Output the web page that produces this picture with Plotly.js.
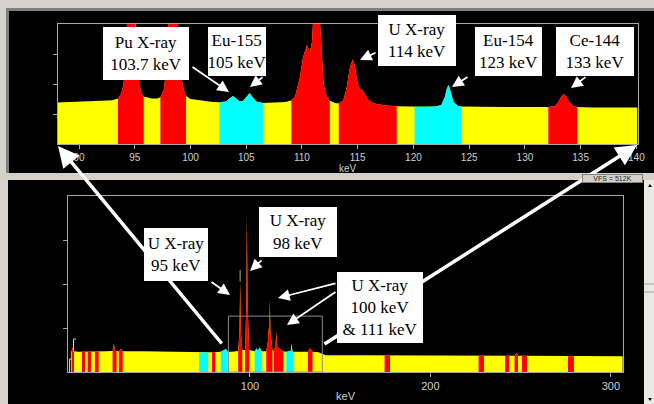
<!DOCTYPE html>
<html><head><meta charset="utf-8">
<script src="https://cdn.plot.ly/plotly-3.0.1.min.js"></script>
<style>html,body{margin:0;padding:0;background:#d6d3ce;}#chart{width:654px;height:404px;}</style>
</head><body><div id="chart"></div>
<script>
// ---------- data ----------
// Top panel: zoomed spectrum (keV, counts in tick units)
const TOP_ENERGY = [88.0,89.0,90.0,91.0,92.0,93.0,93.5,93.8,94.0,94.2,94.35,95.0,95.2,95.4,95.6,95.8,96.5,97.0,97.3,97.6,97.8,98.0,98.1,98.8,99.0,99.2,99.4,99.6,100.0,101.0,102.0,102.6,103.2,103.5,103.8,104.1,104.4,104.7,105.0,105.3,105.6,105.9,106.5,107.5,108.5,109.05,109.4,109.8,110.1,110.45,110.7,110.9,111.05,111.55,111.75,111.95,112.2,112.5,113.0,113.3,113.7,114.0,114.3,114.55,114.75,114.95,115.15,115.45,115.75,116.0,116.5,117.5,118.5,119.3,120.1,121.0,122.0,122.5,122.8,123.0,123.15,123.35,123.6,124.0,124.3,126.0,128.0,130.0,132.1,132.7,133.0,133.3,133.5,133.7,134.0,134.4,134.7,136.0,138.0,140.1];
const TOP_COUNTS = [1.38,1.39,1.40,1.42,1.44,1.46,1.52,1.7,2.0,3.0,4.5,4.5,3.0,2.0,1.7,1.58,1.52,1.52,1.56,1.8,2.4,3.4,4.5,4.5,3.2,2.2,1.8,1.6,1.5,1.44,1.40,1.39,1.42,1.52,1.60,1.52,1.42,1.43,1.58,1.69,1.55,1.42,1.37,1.38,1.40,1.45,1.6,2.2,2.9,3.3,3.05,3.4,4.5,4.5,3.0,2.0,1.6,1.45,1.36,1.36,1.45,1.85,2.55,2.82,2.6,2.1,1.85,1.78,1.6,1.45,1.35,1.28,1.26,1.25,1.24,1.24,1.25,1.3,1.55,1.85,1.97,1.75,1.4,1.27,1.25,1.24,1.24,1.23,1.23,1.27,1.4,1.6,1.66,1.58,1.38,1.26,1.23,1.22,1.22,1.22];
const TOP_RED_ROIS  = [[93.5,95.8],[97.3,99.6],[109.05,112.5],[113.3,118.5],[132.1,134.7]];
const TOP_CYAN_ROIS = [[102.6,106.5],[120.1,124.3]];
const TOP_X_TICKS = [90,95,100,105,110,115,120,125,130,135,140];
const ZOOM_WINDOW = [88.07,140.1];

// Bottom panel: full spectrum
const BOT_ENERGY = [0.8,1.2,1.8,2.5,5,6.9,8.6,10.1,11.9,14.1,16.2,20,23.9,24.6,25.3,26.1,27.4,28.4,29.5,40,50,60,71.9,76.9,79,80.8,83.8,86.7,87.7,90,93.5,94.2,94.6,95.0,95.8,97.3,98.0,98.3,98.7,99.6,102.6,103.7,104.5,105.3,106.5,109.05,110.0,110.4,110.7,111.0,111.4,112.5,113.3,114.2,114.6,115.0,115.6,118.5,120.1,122.6,123.1,123.6,124.3,132.1,133.3,134.7,138,142,160,174.6,176,177.6,200,226.7,229.7,241.4,243.6,246.6,247.8,248.5,250.7,253.5,276.2,279.5,306.5];
const BOT_COUNTS = [0.47,0.47,0.56,0.47,0.46,0.46,0.46,0.47,0.47,0.47,0.47,0.47,0.48,0.64,0.48,0.48,0.47,0.53,0.47,0.47,0.46,0.45,0.44,0.45,0.45,0.45,0.46,0.52,0.46,0.46,0.48,0.9,2.05,0.9,0.5,0.5,1.5,3.55,1.5,0.5,0.47,0.54,0.48,0.56,0.47,0.47,0.7,1.0,0.9,1.65,0.9,0.5,0.47,0.6,0.92,0.6,0.55,0.47,0.46,0.48,0.64,0.46,0.46,0.46,0.54,0.46,0.45,0.38,0.38,0.38,0.38,0.38,0.37,0.37,0.37,0.37,0.37,0.37,0.43,0.37,0.37,0.37,0.36,0.36,0.36];
const BOT_RED_ROIS = [[1.2,2.5],[6.9,8.6],[10.1,11.9],[14.1,16.2],[23.9,26.1],[27.4,29.5],[79,80.8],[93.5,95.8],[97.3,99.6],[109.05,112.5],[113.3,118.5],[132.1,134.7],[174.6,177.6],[226.7,229.7],[241.4,243.6],[246.6,248.5],[250.7,253.5],[276.2,279.5]];
const BOT_CYAN_ROIS = [[71.9,76.9],[83.8,87.7],[102.6,106.5],[120.1,124.3]];
const BOT_X_TICKS = [100,200,300];
const BOT_OVERLAY_E = [94.6];      // gray cap over the 95 keV peak
const BOT_OVERLAY_FROM = [2.05];
const BOT_OVERLAY_TO = [2.32];

const TOP_LABELS = ['Pu X-ray<br>103.7 keV','Eu-155<br>105 keV','U X-ray<br>114 keV','Eu-154<br>123 keV','Ce-144<br>133 keV'];
const BOT_LABELS = ['U X-ray<br>95 keV','U X-ray<br>98 keV','U X-ray<br>100 keV<br>&amp; 111 keV'];

// ---------- helpers ----------
const W = 654, H = 404;
const px = x => x / W, py = y => 1 - y / H;
function seg(E, C, a, b) {
  const xs = [], ys = [];
  for (let i = 0; i < E.length; i++) if (E[i] >= a - 1e-9 && E[i] <= b + 1e-9) { xs.push(E[i]); ys.push(C[i]); }
  return {xs, ys};
}
function fillTrace(xs, ys, color, xa, ya) {
  return {x: xs, y: ys, type: 'scatter', mode: 'lines', fill: 'tozeroy', fillcolor: color,
          line: {width: 0, color: color}, xaxis: xa, yaxis: ya, hoverinfo: 'skip', showlegend: false};
}
const YEL = '#ffff00', RED = '#ff0000', CYA = '#00ffff';
const traces = [];
traces.push(fillTrace(TOP_ENERGY, TOP_COUNTS, YEL, 'x', 'y'));
TOP_RED_ROIS.forEach(r => { const s = seg(TOP_ENERGY, TOP_COUNTS, r[0], r[1]); traces.push(fillTrace(s.xs, s.ys, RED, 'x', 'y')); });
TOP_CYAN_ROIS.forEach(r => { const s = seg(TOP_ENERGY, TOP_COUNTS, r[0], r[1]); traces.push(fillTrace(s.xs, s.ys, CYA, 'x', 'y')); });
traces.push(fillTrace(BOT_ENERGY, BOT_COUNTS, YEL, 'x2', 'y2'));
BOT_RED_ROIS.forEach(r => { const s = seg(BOT_ENERGY, BOT_COUNTS, r[0], r[1]); traces.push(fillTrace(s.xs, s.ys, RED, 'x2', 'y2')); });
BOT_CYAN_ROIS.forEach(r => { const s = seg(BOT_ENERGY, BOT_COUNTS, r[0], r[1]); traces.push(fillTrace(s.xs, s.ys, CYA, 'x2', 'y2')); });
BOT_OVERLAY_E.forEach((e, i) => traces.push({x: [e, e], y: [BOT_OVERLAY_FROM[i], BOT_OVERLAY_TO[i]], type: 'scatter', mode: 'lines',
  line: {color: '#707070', width: 1.5}, xaxis: 'x2', yaxis: 'y2', hoverinfo: 'skip', showlegend: false}));

const AX = '#a8a8a8', TXT = '#cfcfcf';
const tickFont = {family: 'Liberation Sans, Arial, sans-serif', size: 10, color: TXT};
function xAxis(domain, range, ticks, anchor, fsize) {
  return {domain, range, tickvals: ticks, ticktext: ticks.map(String), ticks: 'outside', ticklen: 4, tickcolor: AX,
    tickfont: Object.assign({}, tickFont, {size: fsize}), showline: true, mirror: true, linecolor: AX, linewidth: 1,
    showgrid: false, zeroline: false, anchor, fixedrange: true,
    title: {text: 'keV', font: Object.assign({}, tickFont, {size: fsize}), standoff: 1}};
}
function yAxis(domain, anchor) {
  return {domain, range: [0, 4], tickvals: [1, 2, 3], ticks: 'outside', ticklen: 4, tickcolor: AX, showticklabels: false,
    showline: true, mirror: true, linecolor: AX, linewidth: 1, showgrid: false, zeroline: false, anchor, fixedrange: true};
}

const shapes = [
  // window frames
  {type: 'rect', xref: 'paper', yref: 'paper', x0: px(6), x1: px(654), y0: py(173), y1: py(8), fillcolor: '#808080', line: {width: 0}, layer: 'below'},
  {type: 'rect', xref: 'paper', yref: 'paper', x0: px(9), x1: px(654), y0: py(173), y1: py(11), fillcolor: '#000000', line: {width: 0}, layer: 'below'},
  {type: 'rect', xref: 'paper', yref: 'paper', x0: px(0), x1: px(654), y0: py(180), y1: py(173), fillcolor: '#d4d0c8', line: {width: 0}, layer: 'below'},
  {type: 'rect', xref: 'paper', yref: 'paper', x0: px(8), x1: px(644), y0: py(404), y1: py(180), fillcolor: '#000000', line: {width: 0}, layer: 'below'},
  {type: 'rect', xref: 'paper', yref: 'paper', x0: px(644), x1: px(654), y0: py(404), y1: py(180), fillcolor: '#ebe9e5', line: {width: 0}, layer: 'below'},
  {type: 'line', xref: 'paper', yref: 'paper', x0: px(644), x1: px(654), y0: py(284), y1: py(284), line: {color: '#a0a0a0', width: 1}},
  {type: 'line', xref: 'paper', yref: 'paper', x0: px(644), x1: px(654), y0: py(292), y1: py(292), line: {color: '#a0a0a0', width: 1}},
  {type: 'path', xref: 'paper', yref: 'paper', path: `M${px(648)},${py(187)} L${px(652)},${py(187)} L${px(650)},${py(184)} Z`, fillcolor: '#000', line: {width: 0}},
  {type: 'path', xref: 'paper', yref: 'paper', path: `M${px(648)},${py(398)} L${px(652)},${py(398)} L${px(650)},${py(401)} Z`, fillcolor: '#000', line: {width: 0}},
  // zoom window outline in the full spectrum
  {type: 'rect', xref: 'x2', yref: 'y2', x0: ZOOM_WINDOW[0], x1: ZOOM_WINDOW[1], y0: 0, y1: 1.27, line: {color: '#8c8c8c', width: 1}, fillcolor: 'rgba(0,0,0,0)'},
  // region cursor brackets at the left of the full spectrum
  {type: 'path', xref: 'paper', yref: 'paper', path: `M${px(69.5)},${py(372)} L${px(69.5)},${py(359)} L${px(72)},${py(359)}`, line: {color: '#d0d0d0', width: 1}},
  {type: 'path', xref: 'paper', yref: 'paper', path: `M${px(73.5)},${py(352)} L${px(73.5)},${py(339)} L${px(76)},${py(339)}`, line: {color: '#d0d0d0', width: 1}}
];

const serif = {family: 'Liberation Serif, DejaVu Serif, serif', size: 17, color: '#000000'};
function box(text, x0, x1, y0, y1) {
  return {text, xref: 'paper', yref: 'paper', x: px((x0 + x1) / 2), y: py((y0 + y1) / 2), xanchor: 'center', yanchor: 'middle',
    showarrow: false, bgcolor: '#ffffff', borderpad: 0, borderwidth: 0, width: x1 - x0, height: y1 - y0, font: serif, align: 'center'};
}
function arrow(tx, ty, hx, hy, w, size) {
  return {text: '', xref: 'paper', yref: 'paper', x: px(hx), y: py(hy), ax: tx - hx, ay: ty - hy, axref: 'pixel', ayref: 'pixel',
    showarrow: true, arrowcolor: '#ffffff', arrowwidth: w, arrowhead: 2, arrowsize: size, standoff: 0, startstandoff: 0};
}
const annotations = [
  arrow(223, 345, 58, 146, 3.5, 1.2),
  arrow(323, 345, 637, 145, 3.5, 1.2),
  box(TOP_LABELS[0], 103, 189, 27, 80),
  box(TOP_LABELS[1], 208, 266, 27, 76),
  box(TOP_LABELS[2], 378, 456, 15, 66),
  box(TOP_LABELS[3], 475, 542, 27, 76),
  box(TOP_LABELS[4], 556, 634, 27, 76),
  box(BOT_LABELS[0], 144, 208, 228, 281),
  box(BOT_LABELS[1], 259, 337, 207, 257),
  box(BOT_LABELS[2], 337, 423, 272, 343),
  arrow(191, 66, 229, 92, 1.8, 1.3),
  arrow(264, 76, 250, 87, 1.8, 1.3),
  arrow(377, 52, 360, 60, 1.8, 1.3),
  arrow(469, 76, 452, 87, 1.8, 1.3),
  arrow(587, 76, 571, 88, 1.8, 1.3),
  arrow(210, 281, 230, 295, 1.8, 1.3),
  arrow(263, 259, 250, 271, 1.8, 1.3),
  arrow(337, 283, 278, 298, 1.8, 1.3),
  arrow(337, 291, 287, 325, 1.8, 1.3),
  {text: 'VFS = 512K', xref: 'paper', yref: 'paper', x: px(612.5), y: py(178.5), xanchor: 'center', yanchor: 'middle', showarrow: false,
   bgcolor: '#d4d0c8', bordercolor: '#808080', borderwidth: 1, borderpad: 0, width: 59, height: 7,
   font: {family: 'Liberation Sans, Arial, sans-serif', size: 7, color: '#202020'}}
];

const layout = {
  width: W, height: H, margin: {l: 0, r: 0, t: 0, b: 0}, paper_bgcolor: '#d6d3ce', plot_bgcolor: 'rgba(0,0,0,0)',
  showlegend: false,
  xaxis: xAxis([px(57.5), px(637.5)], ZOOM_WINDOW, TOP_X_TICKS, 'y', 10),
  yaxis: yAxis([py(144), py(24)], 'x'),
  xaxis2: xAxis([px(68), px(623)], [-0.8, 306.7], BOT_X_TICKS, 'y2', 11),
  yaxis2: yAxis([py(372), py(196)], 'x2'),
  shapes, annotations
};
Plotly.newPlot('chart', traces, layout, {staticPlot: true, displayModeBar: false});
</script></body></html>
